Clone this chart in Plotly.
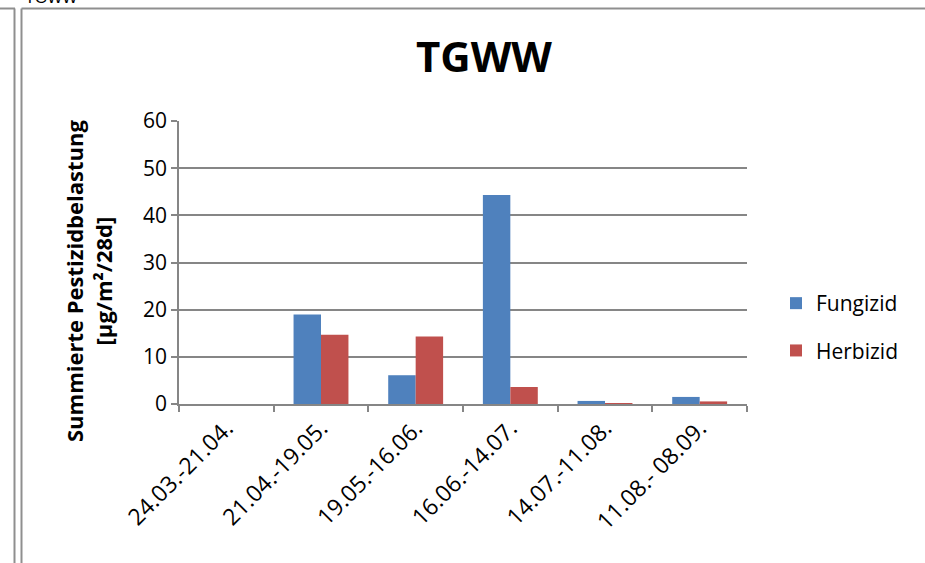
import plotly.graph_objects as go

# Sampling periods (28-day intervals) and summed pesticide loads in µg/m²/28d
periods = ["24.03.-21.04.", "21.04.-19.05.", "19.05.-16.06.",
           "16.06.-14.07.", "14.07.-11.08.", "11.08.- 08.09."]
fungizid = [0.0, 19.0, 6.1, 44.3, 0.65, 1.5]
herbizid = [0.0, 14.7, 14.3, 3.6, 0.2, 0.55]

W, H = 925, 563
L, R, T, B = 179, 178, 121, 159
PW = W - L - R
PH = H - T - B

def px_x(p):
    return (p - L) / PW

def px_y(p):
    return 1 - (p - T) / PH

FONT = "'Open Sans', Lato, sans-serif"
GRID = "#868686"
FRAME = "#8f8f8f"

fig = go.Figure()
fig.add_trace(go.Bar(x=periods, y=fungizid, name="Fungizid",
                     marker=dict(color="#4F81BD", line=dict(width=0)),
                     legendgroup="f"))
fig.add_trace(go.Bar(x=periods, y=herbizid, name="Herbizid",
                     marker=dict(color="#C0504D", line=dict(width=0)),
                     legendgroup="h"))

fig.update_layout(
    width=W, height=H,
    margin=dict(l=L, r=R, t=T, b=B, pad=0),
    paper_bgcolor="white", plot_bgcolor="white",
    barmode="group", bargap=0.42, bargroupgap=0,
    font=dict(family=FONT, size=21, color="black"),
    showlegend=True,
    legend=dict(x=px_x(776), xanchor="left", y=px_y(283), yanchor="top",
                traceorder="grouped", tracegroupgap=17,
                font=dict(size=21), bgcolor="rgba(0,0,0,0)"),
    xaxis=dict(type="category", tickson="boundaries", ticks="outside",
               ticklen=6, tickwidth=1.5, tickcolor=GRID,
               showline=True, linecolor=GRID, linewidth=1.5,
               tickangle=-45, showgrid=False,
               tickfont=dict(size=23)),
    yaxis=dict(range=[0, 60], dtick=10, ticks="outside", ticklen=6,
               tickwidth=1.5, tickcolor=GRID,
               showline=True, linecolor=GRID, linewidth=1.5,
               showgrid=True, gridcolor=GRID, gridwidth=1.5,
               zeroline=False, tickfont=dict(size=21)),
)

# Chart title
fig.add_annotation(text="<b>TGWW</b>", xref="paper", yref="paper",
                   x=px_x(484), y=px_y(55), xanchor="center", yanchor="middle",
                   showarrow=False, font=dict(family=FONT, size=42))

# Y-axis title
fig.add_annotation(text="<b>Summierte Pestizidbelastung<br>[µg/m²/28d]</b>",
                   xref="paper", yref="paper", x=px_x(88), y=px_y(281),
                   xanchor="center", yanchor="middle", textangle=-90,
                   showarrow=False, font=dict(family=FONT, size=22))

# Cell heading above the frame
fig.add_annotation(text="TGWW", xref="paper", yref="paper",
                   x=px_x(23), y=px_y(8), xanchor="left", yanchor="bottom",
                   showarrow=False, font=dict(family="Liberation Sans, Arial", size=16))

# Surrounding table-cell frame
frame = [
    (0, 8.5, 15, 8.5),
    (14.5, 8.5, 14.5, H),
    (21.5, 8.5, 21.5, H),
    (21.5, 8.5, W, 8.5),
]
for x0, y0, x1, y1 in frame:
    fig.add_shape(type="line", xref="paper", yref="paper",
                  x0=px_x(x0), y0=px_y(y0), x1=px_x(x1), y1=px_y(y1),
                  line=dict(color=FRAME, width=2), layer="above")

fig.write_html("out.html")
